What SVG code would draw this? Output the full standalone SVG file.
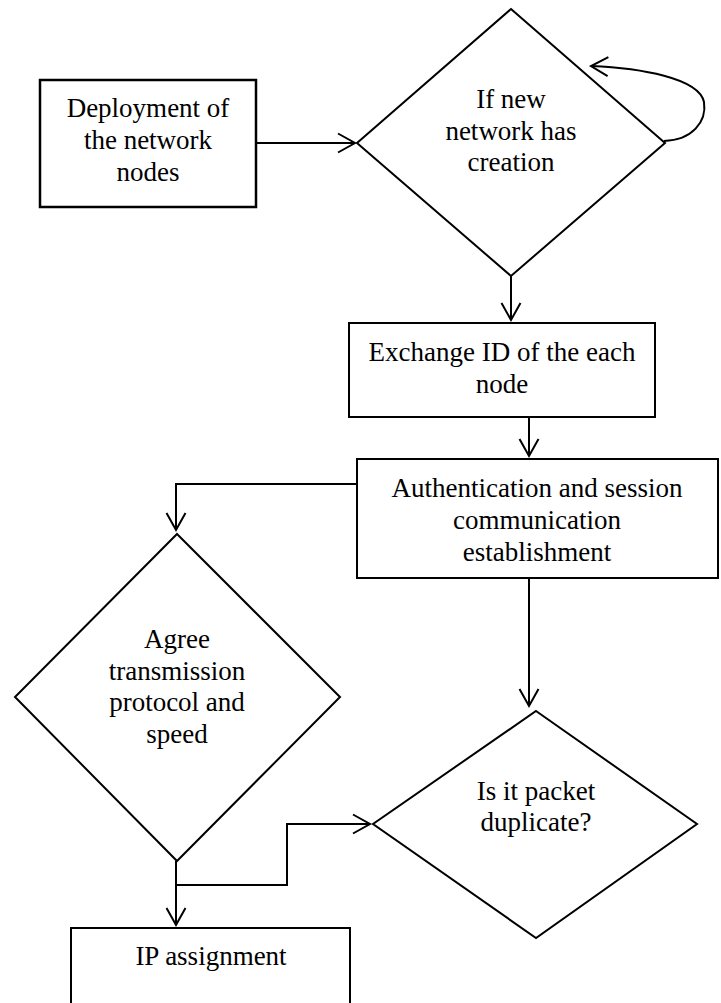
<svg xmlns="http://www.w3.org/2000/svg" width="721" height="1003" viewBox="0 0 721 1003">
<style>
.n{fill:#fff;stroke:#000;stroke-width:2}
.t{font-family:"Liberation Serif","Times New Roman",serif;font-size:27px;fill:#000;text-anchor:middle}
.c{fill:none;stroke:#000;stroke-width:2}
</style>
<defs>
<marker id="a" viewBox="-19 -11 21 22" refX="0" refY="0" markerWidth="21" markerHeight="22" markerUnits="userSpaceOnUse" orient="auto" overflow="visible">
<path d="M-17,-9.5 L0,0 L-17,9.5" fill="none" stroke="#000" stroke-width="2"/>
</marker>
</defs>
<rect width="721" height="1003" fill="#fff"/>
<g id="connectors">
<path class="c" d="M256,143 L355,143" marker-end="url(#a)"/>
<path class="c" d="M664,141 C692,140 707,122 704,102 C699,78 640,68 591,66" marker-end="url(#a)"/>
<path class="c" d="M511,276 L511,320" marker-end="url(#a)"/>
<path class="c" d="M529,417 L529,456" marker-end="url(#a)"/>
<path class="c" d="M357,484 L176,484 L176,530" marker-end="url(#a)"/>
<path class="c" d="M529,578 L529,706" marker-end="url(#a)"/>
<path class="c" d="M176,861 L176,925" marker-end="url(#a)"/>
<path class="c" d="M176,885 L287,885 L287,824 L370,824" marker-end="url(#a)"/>
</g>
<g id="deploy">
<rect class="n" x="40" y="80" width="216" height="127" style="stroke-width:2.5"/>
<text class="t" x="148" y="117">Deployment of</text>
<text class="t" x="148" y="149">the network</text>
<text class="t" x="148" y="181">nodes</text>
</g>
<g id="newnet">
<polygon class="n" points="511,9 665,143 511,276 357,143"/>
<text class="t" x="511" y="108">If new</text>
<text class="t" x="511" y="140">network has</text>
<text class="t" x="511" y="171">creation</text>
</g>
<g id="exchange">
<rect class="n" x="349" y="323" width="306" height="94"/>
<text class="t" x="502" y="361">Exchange ID of the each</text>
<text class="t" x="502" y="393">node</text>
</g>
<g id="auth">
<rect class="n" x="357" y="459" width="361" height="119"/>
<text class="t" x="537" y="497">Authentication and session</text>
<text class="t" x="537" y="529">communication</text>
<text class="t" x="537" y="561">establishment</text>
</g>
<g id="agree">
<polygon class="n" points="177,534 340,697 177,861 15,697"/>
<text class="t" x="177" y="648">Agree</text>
<text class="t" x="177" y="680">transmission</text>
<text class="t" x="177" y="711">protocol and</text>
<text class="t" x="177" y="743">speed</text>
</g>
<g id="dup">
<polygon class="n" points="536,711 697,824 536,938 373,824"/>
<text class="t" x="536" y="800">Is it packet</text>
<text class="t" x="536" y="831">duplicate?</text>
</g>
<g id="ip">
<rect class="n" x="71" y="928" width="279" height="90"/>
<text class="t" x="211" y="965">IP assignment</text>
</g>
</svg>
